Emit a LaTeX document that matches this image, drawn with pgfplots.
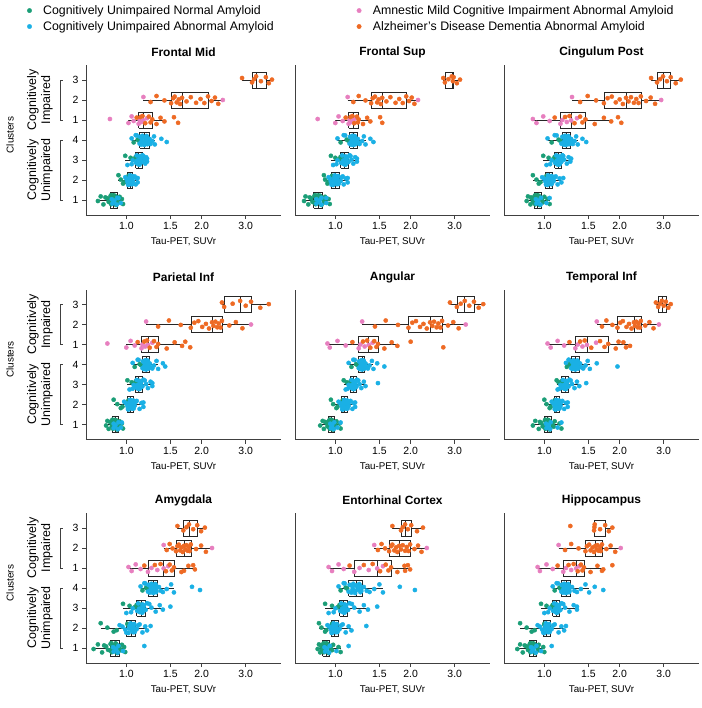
\documentclass[border=0pt]{standalone}
\usepackage{fontspec}
\setmainfont{Liberation Sans}
\usepackage{pgfplots}
\usepackage{pgfplotstable}
\pgfplotsset{compat=1.18}

\definecolor{cuN}{HTML}{1B9E77}
\definecolor{cuA}{HTML}{1AB0E5}
\definecolor{mci}{HTML}{E77FBF}
\definecolor{add}{HTML}{EE6A24}

% columns: y = cluster position + jitter; A..I = SUVr in the nine regions
\pgfplotstableread{
y A B C D E F G H I
0.95 .77 .75 .85 .83 .87 .90 .74 .85 .78
1.18 .79 .76 .86 .84 .89 .92 .77 .86 .80
0.78 .81 .78 .88 .85 .90 .95 .80 .87 .82
1.08 .84 .80 .89 .87 .92 .97 .83 .88 .85
0.88 .86 .82 .91 .88 .94 1.00 .86 .89 .87
1.24 .87 .83 .92 .88 .95 1.01 .87 .90 .88
1.02 .87 .84 .92 .89 .95 1.01 .88 .90 .88
1.14 .89 .85 .94 .90 .96 1.03 .90 .92 .90
1.21 .90 .87 .95 .91 .97 1.04 .91 .93 .91
0.75 .91 .88 .96 .92 .98 1.05 .92 .94 .92
0.98 .92 .90 .98 .93 1.00 1.08 .94 .96 .94
1.16 .94 .91 1.00 .94 1.01 1.10 .96 .98 .95
1.05 .96 .94 1.03 .96 1.04 1.15 .98 1.03 .99
0.80 .97 .95 1.05 .97 1.05 1.17 .99 1.05 1.00
1.13 .825 .79 .885 .86 .91 .96 .815 .875 .835
0.91 .85 .81 .90 .875 .93 .985 .845 .885 .86
1.20 .865 .825 .915 .88 .945 1.005 .865 .895 .875
0.79 .87 .835 .92 .885 .95 1.01 .875 .90 .88
0.86 .885 .845 .935 .895 .96 1.025 .895 .915 .895
1.23 .89 .855 .94 .90 .965 1.035 .905 .92 .90
1.16 .905 .875 .955 .915 .975 1.045 .915 .935 .915
1.07 .92 .89 .975 .93 .995 1.07 .935 .955 .935
0.89 .93 .905 .99 .935 1.005 1.09 .95 .97 .945
2.24 .93 .90 .90 .89 .96 1.00 .79 .86 .80
2.02 .95 .91 .93 .92 .98 1.02 .84 .88 .85
1.82 .97 .93 .95 .95 1.01 1.05 .89 .91 .89
2.21 1.02 .97 1.02 1.02 1.07 1.10 1.01 .97 1.00
1.98 1.04 1.00 1.04 1.04 1.09 1.12 1.05 .99 1.02
1.89 .98 .935 .965 .965 1.02 1.06 .915 .92 .915
2.16 1.02 .975 1.025 1.02 1.07 1.105 1.015 .97 1.00
3.21 .99 .96 .99 1.01 1.08 1.12 .97 .91 .97
3.11 1.04 1.00 1.04 1.05 1.11 1.14 1.03 .97 1.02
3.16 1.09 1.05 1.10 1.09 1.15 1.17 1.10 1.04 1.08
3.05 1.10 1.07 1.12 1.10 1.16 1.19 1.12 1.06 1.10
3.04 1.075 1.035 1.085 1.08 1.14 1.165 1.08 1.02 1.065
3.16 1.115 1.085 1.125 1.115 1.175 1.205 1.14 1.075 1.115
3.88 1.07 1.05 1.07 1.08 1.16 1.23 1.16 1.05 1.10
4.02 1.11 1.11 1.14 1.13 1.21 1.26 1.20 1.10 1.15
3.97 1.12 1.125 1.155 1.145 1.225 1.27 1.21 1.115 1.16
}\tG

\pgfplotstableread{
y A B C D E F G H I
0.82 .88 .84 .93 .89 .96 1.02 .89 .91 .89
0.92 .89 .86 .94 .90 .97 1.04 .91 .92 .90
1.11 .92 .88 .97 .93 .99 1.06 .93 .95 .93
0.85 .95 .92 1.02 .95 1.02 1.13 .97 1.01 .97
1.10 .93 .92 1.05 .96 1.05 1.17 1.18 1.13 1.07
1.04 .875 .84 .925 .89 .955 1.015 .885 .905 .885
0.97 .895 .865 .945 .905 .97 1.04 .91 .925 .905
0.77 .915 .88 .965 .925 .985 1.055 .925 .945 .925
2.14 .99 .94 .98 .98 1.03 1.07 .94 .93 .94
1.92 1.01 .96 1.01 1.01 1.06 1.10 .99 .96 .98
1.75 1.02 .98 1.03 1.02 1.07 1.11 1.02 .97 1.00
2.11 1.03 .99 1.03 1.03 1.08 1.11 1.03 .98 1.01
2.16 1.04 1.00 1.05 1.04 1.09 1.12 1.06 1.00 1.03
1.85 1.05 1.01 1.06 1.05 1.10 1.13 1.06 1.00 1.03
2.05 1.05 1.02 1.07 1.06 1.11 1.14 1.07 1.01 1.04
1.80 1.06 1.03 1.07 1.07 1.12 1.15 1.08 1.02 1.05
1.95 1.06 1.05 1.09 1.08 1.13 1.16 1.10 1.04 1.07
2.18 1.08 1.07 1.11 1.10 1.15 1.18 1.13 1.07 1.10
1.78 1.09 1.08 1.13 1.13 1.17 1.20 1.16 1.10 1.14
2.08 1.10 1.10 1.15 1.15 1.18 1.22 1.19 1.13 1.17
1.88 1.11 1.12 1.17 1.17 1.20 1.24 1.21 1.16 1.20
2.10 1.11 1.12 1.19 1.17 1.20 1.24 1.25 1.33 1.22
2.07 1.00 .95 .995 .995 1.045 1.085 .965 .945 .96
1.77 1.015 .965 1.015 1.015 1.065 1.10 1.00 .965 .99
1.97 1.025 .985 1.03 1.025 1.075 1.11 1.025 .975 1.005
2.23 1.035 .995 1.035 1.035 1.085 1.115 1.04 .985 1.015
1.86 1.04 1.00 1.045 1.04 1.09 1.12 1.055 .995 1.025
2.04 1.045 1.005 1.055 1.045 1.095 1.125 1.06 1.00 1.03
1.79 1.05 1.015 1.065 1.055 1.105 1.135 1.065 1.005 1.035
2.20 1.055 1.025 1.07 1.065 1.115 1.145 1.075 1.015 1.045
1.91 1.06 1.04 1.08 1.075 1.125 1.155 1.09 1.03 1.06
2.13 1.07 1.06 1.10 1.09 1.14 1.17 1.115 1.055 1.085
2.75 1.01 .98 1.02 1.03 1.10 1.13 1.00 .94 1.00
2.98 1.06 1.02 1.07 1.07 1.13 1.16 1.06 1.00 1.05
2.85 1.10 1.06 1.11 1.10 1.16 1.18 1.11 1.05 1.09
2.80 1.11 1.08 1.12 1.11 1.17 1.20 1.13 1.07 1.11
2.95 1.12 1.09 1.13 1.12 1.18 1.21 1.15 1.08 1.12
3.18 1.13 1.10 1.14 1.13 1.18 1.22 1.16 1.09 1.12
2.78 1.13 1.10 1.15 1.13 1.19 1.22 1.16 1.09 1.13
3.08 1.14 1.11 1.16 1.14 1.20 1.23 1.17 1.10 1.14
2.88 1.15 1.12 1.16 1.15 1.21 1.24 1.18 1.11 1.15
3.24 1.16 1.14 1.18 1.17 1.22 1.26 1.21 1.14 1.17
3.02 1.18 1.16 1.20 1.20 1.25 1.29 1.26 1.19 1.21
2.82 1.19 1.18 1.23 1.22 1.27 1.32 1.31 1.25 1.26
3.14 1.20 1.20 1.25 1.25 1.30 1.35 1.36 1.30 1.31
2.92 1.21 1.22 1.27 1.27 1.32 1.38 1.40 1.35 1.35
3.07 1.21 1.22 1.28 1.27 1.48 1.47 1.50 1.47 1.35
2.79 1.05 1.01 1.055 1.06 1.12 1.15 1.045 .985 1.035
2.86 1.095 1.055 1.105 1.095 1.155 1.175 1.105 1.045 1.085
3.23 1.10 1.065 1.115 1.10 1.16 1.185 1.115 1.055 1.095
2.97 1.105 1.075 1.12 1.105 1.165 1.195 1.125 1.065 1.105
2.77 1.125 1.095 1.135 1.125 1.18 1.215 1.155 1.085 1.12
3.07 1.13 1.10 1.145 1.13 1.185 1.22 1.16 1.09 1.125
2.89 1.135 1.105 1.155 1.135 1.195 1.225 1.165 1.095 1.135
3.13 1.145 1.115 1.16 1.145 1.205 1.235 1.175 1.105 1.145
2.91 1.155 1.13 1.17 1.16 1.215 1.25 1.195 1.125 1.16
3.20 1.17 1.15 1.19 1.185 1.235 1.275 1.235 1.165 1.19
4.08 1.05 1.02 1.03 1.06 1.13 1.22 1.14 1.03 1.08
4.24 1.09 1.08 1.10 1.11 1.18 1.25 1.18 1.08 1.12
3.82 1.13 1.14 1.17 1.16 1.24 1.28 1.22 1.13 1.17
4.14 1.14 1.15 1.19 1.17 1.25 1.29 1.23 1.15 1.18
3.92 1.15 1.16 1.20 1.18 1.26 1.30 1.25 1.17 1.19
4.21 1.16 1.17 1.21 1.19 1.27 1.31 1.26 1.18 1.20
3.75 1.18 1.18 1.22 1.20 1.28 1.33 1.28 1.20 1.22
4.11 1.19 1.19 1.23 1.20 1.28 1.34 1.29 1.22 1.23
3.98 1.20 1.19 1.24 1.21 1.29 1.35 1.30 1.24 1.24
4.16 1.21 1.20 1.25 1.22 1.30 1.36 1.31 1.25 1.25
3.85 1.22 1.21 1.26 1.23 1.31 1.37 1.32 1.27 1.26
4.05 1.24 1.23 1.28 1.24 1.32 1.39 1.35 1.30 1.29
3.80 1.25 1.25 1.30 1.27 1.35 1.43 1.40 1.37 1.35
3.95 1.27 1.28 1.32 1.29 1.37 1.46 1.45 1.43 1.40
4.18 1.29 1.30 1.34 1.32 1.40 1.49 1.51 1.50 1.46
3.78 1.30 1.32 1.36 1.34 1.42 1.52 1.55 1.55 1.51
4.06 1.38 1.38 1.42 1.40 1.47 1.62 1.83 1.81 1.59
3.90 1.45 1.42 1.47 1.43 1.57 1.96 1.97 2.08 1.72
4.23 1.10 1.095 1.12 1.12 1.195 1.255 1.19 1.09 1.135
4.16 1.135 1.145 1.18 1.165 1.245 1.285 1.225 1.14 1.175
3.77 1.145 1.155 1.195 1.175 1.255 1.295 1.24 1.16 1.185
4.07 1.155 1.165 1.205 1.185 1.265 1.305 1.255 1.175 1.195
3.89 1.17 1.175 1.215 1.195 1.275 1.32 1.27 1.19 1.21
4.13 1.185 1.185 1.225 1.20 1.28 1.335 1.285 1.21 1.225
3.91 1.195 1.19 1.235 1.205 1.285 1.345 1.295 1.23 1.235
4.20 1.205 1.195 1.245 1.215 1.295 1.355 1.305 1.245 1.245
3.79 1.215 1.205 1.255 1.225 1.305 1.365 1.315 1.26 1.255
4.04 1.23 1.22 1.27 1.235 1.315 1.38 1.335 1.285 1.275
3.86 1.245 1.24 1.29 1.255 1.335 1.41 1.375 1.335 1.32
}\tC

\pgfplotstableread{
y A B C D E F G H I
5.05 .86 .85 .90 .84 .93 1.03 1.02 .94 .94
4.85 1.02 1.00 .93 1.00 .95 1.06 1.05 .97 .96
5.18 1.05 1.03 .99 1.04 1.02 1.13 1.09 1.03 1.02
4.95 1.07 1.07 1.05 1.08 1.10 1.20 1.14 1.08 1.08
4.81 1.12 1.13 1.16 1.15 1.24 1.33 1.22 1.19 1.19
5.00 1.13 1.14 1.18 1.16 1.26 1.36 1.26 1.25 1.22
4.90 1.15 1.16 1.23 1.19 1.31 1.42 1.33 1.36 1.28
4.98 1.17 1.18 1.28 1.22 1.36 1.48 1.41 1.47 1.34
5.09 1.21 1.20 1.35 1.27 1.41 1.61 1.47 1.55 1.38
6.15 1.17 1.12 1.29 1.20 1.28 1.62 1.41 1.43 1.14
6.00 2.43 2.14 2.93 3.15 3.32 2.87 2.20 2.32 2.02
}\tP

\pgfplotstableread{
y A B C D E F G H I
5.12 1.10 1.10 1.10 1.11 1.17 1.26 1.18 1.14 1.13
5.15 1.14 1.15 1.21 1.18 1.29 1.39 1.30 1.30 1.25
5.20 1.16 1.17 1.26 1.21 1.34 1.45 1.37 1.41 1.31
4.84 1.19 1.19 1.32 1.24 1.38 1.54 1.44 1.51 1.36
5.17 1.23 1.22 1.39 1.29 1.43 1.67 1.49 1.59 1.40
4.88 1.25 1.23 1.42 1.32 1.46 1.74 1.52 1.63 1.42
5.03 1.27 1.24 1.46 1.34 1.48 1.80 1.55 1.67 1.44
4.80 1.32 1.29 1.59 1.45 1.57 1.93 1.66 1.77 1.53
5.11 1.37 1.34 1.73 1.56 1.68 2.07 1.77 1.89 1.63
4.93 1.42 1.38 1.85 1.67 1.77 2.20 1.88 1.99 1.72
5.14 1.55 1.51 1.97 1.72 2.00 1.98 1.85 1.95 1.87
4.86 1.61 1.54 2.03 1.80 2.70 2.12 1.70 1.90 1.70
5.90 1.25 1.18 1.39 1.34 1.44 1.70 1.45 1.48 1.21
6.20 1.32 1.24 1.49 1.48 1.59 1.77 1.49 1.53 1.28
5.98 1.42 1.32 1.61 1.65 1.78 1.87 1.53 1.58 1.37
5.84 1.51 1.39 1.73 1.81 1.96 1.96 1.58 1.64 1.46
6.09 1.54 1.41 1.79 1.87 2.03 2.01 1.60 1.67 1.48
6.17 1.56 1.44 1.86 1.94 2.10 2.06 1.62 1.69 1.51
5.88 1.59 1.47 1.93 2.01 2.18 2.13 1.64 1.72 1.53
6.03 1.62 1.49 2.00 2.08 2.25 2.18 1.66 1.75 1.56
5.80 1.64 1.52 2.06 2.14 2.32 2.23 1.68 1.77 1.58
6.11 1.67 1.54 2.12 2.20 2.39 2.28 1.70 1.80 1.60
5.93 1.74 1.60 2.17 2.23 2.44 2.30 1.72 1.83 1.62
6.14 1.81 1.66 2.22 2.27 2.48 2.33 1.74 1.86 1.63
5.86 1.90 1.74 2.28 2.31 2.54 2.36 1.76 1.90 1.65
6.05 1.98 1.80 2.33 2.34 2.58 2.38 1.78 1.93 1.67
5.85 2.05 1.86 2.38 2.38 2.63 2.41 1.79 1.96 1.68
6.18 2.12 1.92 2.43 2.41 2.67 2.43 1.81 1.99 1.70
5.95 2.19 1.97 2.55 2.58 2.82 2.53 1.90 2.07 1.77
6.12 2.26 2.02 2.66 2.74 2.96 2.63 1.99 2.14 1.84
5.81 2.33 2.07 2.77 2.91 3.11 2.73 2.08 2.21 1.92
7.10 2.90 2.70 2.67 2.41 2.87 2.79 1.60 1.69 1.27
6.88 3.18 2.74 2.82 2.46 3.06 2.85 1.69 1.83 1.58
7.04 3.24 2.83 2.90 2.66 3.17 2.90 1.74 1.86 1.585
7.18 3.30 2.92 2.98 2.85 3.29 2.95 1.78 1.90 1.59
6.94 3.45 2.95 3.09 3.00 3.43 3.00 1.85 1.95 1.67
7.14 3.61 2.97 3.20 3.15 3.58 3.06 1.92 2.01 1.75
6.84 3.71 3.06 3.35 3.43 3.74 3.13 1.99 2.12 1.81
7.02 3.82 3.15 3.51 3.71 3.90 3.20 2.06 2.24 1.87
}\tO

\pgfplotsset{
  every axis/.append style={
    scale only axis, width=195bp, height=150bp,
    xmode=log, xmin=0.69, xmax=4.15, ymin=0.25, ymax=7.75,
    axis x line*=bottom, axis y line*=left,
    xtick={1,1.5,2,3}, xticklabels={1.0,1.5,2.0,3.0},
    tick align=outside, major tick length=4bp,
    tick style={black!75, line width=0.6bp},
    axis line style={black!75, line width=0.8bp},
    tick label style={font=\fontsize{10.5}{12}\selectfont},
    xlabel={Tau-PET, SUVr},
    xlabel style={at={(axis description cs:0.5,0)}, anchor=center, yshift=-27bp, font=\fontsize{9.8}{11}\selectfont},
    title style={at={(axis description cs:0.5,1)}, anchor=center, yshift=6.5bp, font=\bfseries\fontsize{12}{14}\selectfont},
    clip=false,
  },
  myboxline/.style={black!85, line width=0.55bp, forget plot, mark=none},
  mypoint/.style={only marks, mark=*, mark size=2.1bp, forget plot},
}

% box: position, lower whisker, lower quartile, median, upper quartile, upper whisker
\newcommand{\bx}[6]{%
  \pgfmathsetmacro\yl{#1-0.4}\pgfmathsetmacro\yh{#1+0.4}%
  \addplot[myboxline] coordinates {(#3,\yl) (#5,\yl) (#5,\yh) (#3,\yh) (#3,\yl)};
  \addplot[myboxline] coordinates {(#4,\yl) (#4,\yh)};
  \addplot[myboxline] coordinates {(#2,#1) (#3,#1)};
  \addplot[myboxline] coordinates {(#5,#1) (#6,#1)};
}

\newcommand{\pts}[1]{%
  \addplot[mypoint, color=cuN] table[x=#1, y=y] {\tG};
  \addplot[mypoint, color=cuA] table[x=#1, y=y] {\tC};
  \addplot[mypoint, color=mci] table[x=#1, y=y] {\tP};
  \addplot[mypoint, color=add] table[x=#1, y=y] {\tO};
}

\newcommand{\leftdeco}{%
  \draw[black!75, line width=0.6bp] ([xshift=-23bp]axis cs:0.69,5) -- ([xshift=-26bp]axis cs:0.69,5) -- ([xshift=-26bp]axis cs:0.69,7) -- ([xshift=-23bp]axis cs:0.69,7);
  \draw[black!75, line width=0.6bp] ([xshift=-23bp]axis cs:0.69,1) -- ([xshift=-26bp]axis cs:0.69,1) -- ([xshift=-26bp]axis cs:0.69,4) -- ([xshift=-23bp]axis cs:0.69,4);
  \node[rotate=90, align=center, font=\fontsize{12.5}{14}\selectfont] at ([xshift=-46bp]axis cs:0.69,6) {Cognitively\\Impaired};
  \node[rotate=90, align=center, font=\fontsize{12.5}{14}\selectfont] at ([xshift=-46bp]axis cs:0.69,2.5) {Cognitively\\Unimpaired};
  \node[rotate=90, font=\fontsize{10}{12}\selectfont] at ([xshift=-76bp]axis cs:0.69,4.25) {Clusters};
}

\begin{document}
\begin{tikzpicture}
\useasboundingbox (0,0) rectangle (702bp,-708bp);

% ---------- Row 1 ----------
\begin{axis}[at={(86bp,-215bp)}, anchor=south west, title={Frontal Mid},
  ytick={1,2,3,4,5,6,7}, yticklabels={1,2,3,4,1,2,3},
  legend columns=2, legend cell align=left,
  legend style={at={(-0.302,1.4123)}, anchor=north west, draw=none, fill=none,
    inner sep=0pt, font=\fontsize{12.4}{14}\selectfont, row sep=1.5bp,
    /tikz/column 1/.style={column sep=9.5bp},
    /tikz/column 2/.style={column sep=81bp},
    /tikz/column 3/.style={column sep=9.5bp}}]
\addlegendimage{only marks, mark=*, mark size=2.2bp, color=cuN}
\addlegendentry{Cognitively Unimpaired Normal Amyloid}
\addlegendimage{only marks, mark=*, mark size=2.2bp, color=mci}
\addlegendentry{Amnestic Mild Cognitive Impairment Abnormal Amyloid}
\addlegendimage{only marks, mark=*, mark size=2.2bp, color=cuA}
\addlegendentry{Cognitively Unimpaired Abnormal Amyloid}
\addlegendimage{only marks, mark=*, mark size=2.2bp, color=add}
\addlegendentry{Alzheimer's Disease Dementia Abnormal Amyloid}
\bx{1}{.77}{.86}{.89}{.92}{.97}
\bx{2}{.93}{1.01}{1.04}{1.06}{1.11}
\bx{3}{.99}{1.09}{1.12}{1.16}{1.21}
\bx{4}{1.05}{1.13}{1.18}{1.23}{1.30}
\bx{5}{1.02}{1.12}{1.17}{1.27}{1.42}
\bx{6}{1.17}{1.51}{1.67}{2.12}{2.43}
\bx{7}{2.90}{3.18}{3.30}{3.61}{3.82}
\pts{A}
\leftdeco
\end{axis}

\begin{axis}[at={(295bp,-215bp)}, anchor=south west, title={Frontal Sup}, ytick=\empty]
\bx{1}{.75}{.82}{.855}{.89}{.95}
\bx{2}{.90}{.96}{1.00}{1.04}{1.12}
\bx{3}{.96}{1.05}{1.09}{1.13}{1.22}
\bx{4}{1.02}{1.14}{1.18}{1.22}{1.32}
\bx{5}{1.00}{1.13}{1.18}{1.24}{1.38}
\bx{6}{1.12}{1.39}{1.54}{1.92}{2.14}
\bx{7}{2.70}{2.74}{2.92}{2.97}{3.15}
\pts{B}
\end{axis}

\begin{axis}[at={(504bp,-215bp)}, anchor=south west, title={Cingulum Post}, ytick=\empty]
\bx{1}{.85}{.91}{.94}{.97}{1.05}
\bx{2}{.90}{1.01}{1.045}{1.08}{1.17}
\bx{3}{.99}{1.10}{1.135}{1.17}{1.27}
\bx{4}{1.03}{1.18}{1.22}{1.27}{1.36}
\bx{5}{.90}{1.16}{1.28}{1.46}{1.85}
\bx{6}{1.29}{1.73}{2.12}{2.43}{2.93}
\bx{7}{2.67}{2.82}{2.98}{3.20}{3.51}
\pts{C}
\end{axis}

% ---------- Row 2 ----------
\begin{axis}[at={(86bp,-439.5bp)}, anchor=south west, title={Parietal Inf},
  ytick={1,2,3,4,5,6,7}, yticklabels={1,2,3,4,1,2,3}]
\bx{1}{.83}{.88}{.90}{.93}{.97}
\bx{2}{.89}{1.01}{1.04}{1.07}{1.17}
\bx{3}{1.01}{1.09}{1.12}{1.16}{1.27}
\bx{4}{1.06}{1.16}{1.20}{1.23}{1.34}
\bx{5}{1.00}{1.15}{1.22}{1.34}{1.67}
\bx{6}{1.20}{1.81}{2.20}{2.41}{3.15}
\bx{7}{2.41}{2.46}{2.85}{3.15}{3.71}
\pts{D}
\leftdeco
\end{axis}

\begin{axis}[at={(295bp,-439.5bp)}, anchor=south west, title={Angular}, ytick=\empty]
\bx{1}{.87}{.94}{.965}{.99}{1.05}
\bx{2}{.96}{1.06}{1.09}{1.12}{1.20}
\bx{3}{1.08}{1.15}{1.18}{1.21}{1.32}
\bx{4}{1.13}{1.24}{1.28}{1.31}{1.42}
\bx{5}{.93}{1.24}{1.36}{1.48}{1.77}
\bx{6}{1.28}{1.96}{2.39}{2.67}{3.32}
\bx{7}{2.87}{3.06}{3.29}{3.58}{3.90}
\pts{E}
\end{axis}

\begin{axis}[at={(504bp,-439.5bp)}, anchor=south west, title={Temporal Inf}, ytick=\empty]
\bx{1}{.90}{1.00}{1.03}{1.07}{1.17}
\bx{2}{1.00}{1.10}{1.12}{1.15}{1.24}
\bx{3}{1.12}{1.17}{1.21}{1.25}{1.38}
\bx{4}{1.22}{1.28}{1.33}{1.38}{1.52}
\bx{5}{1.03}{1.33}{1.48}{1.80}{2.20}
\bx{6}{1.62}{1.96}{2.28}{2.43}{2.87}
\bx{7}{2.79}{2.85}{2.95}{3.06}{3.20}
\pts{F}
\end{axis}

% ---------- Row 3 ----------
\begin{axis}[at={(86bp,-663bp)}, anchor=south west, title={Amygdala},
  ytick={1,2,3,4,5,6,7}, yticklabels={1,2,3,4,1,2,3}]
\bx{1}{.74}{.86}{.90}{.94}{.99}
\bx{2}{.79}{1.00}{1.05}{1.09}{1.21}
\bx{3}{.97}{1.10}{1.15}{1.19}{1.40}
\bx{4}{1.14}{1.22}{1.28}{1.33}{1.55}
\bx{5}{1.02}{1.22}{1.41}{1.55}{1.88}
\bx{6}{1.41}{1.58}{1.70}{1.81}{2.20}
\bx{7}{1.60}{1.69}{1.78}{1.92}{2.06}
\pts{G}
\leftdeco
\end{axis}

\begin{axis}[at={(295bp,-663bp)}, anchor=south west, title={Entorhinal Cortex}, ytick=\empty]
\bx{1}{.85}{.89}{.92}{.95}{1.05}
\bx{2}{.86}{.96}{.99}{1.03}{1.16}
\bx{3}{.91}{1.04}{1.08}{1.12}{1.35}
\bx{4}{1.03}{1.13}{1.21}{1.28}{1.55}
\bx{5}{.94}{1.19}{1.47}{1.67}{1.99}
\bx{6}{1.43}{1.64}{1.80}{1.99}{2.32}
\bx{7}{1.69}{1.83}{1.90}{2.01}{2.24}
\pts{H}
\end{axis}

\begin{axis}[at={(504bp,-663bp)}, anchor=south west, title={Hippocampus}, ytick=\empty]
\bx{1}{.78}{.87}{.90}{.93}{1.00}
\bx{2}{.80}{.99}{1.02}{1.06}{1.20}
\bx{3}{.97}{1.08}{1.12}{1.15}{1.35}
\bx{4}{1.08}{1.17}{1.22}{1.27}{1.51}
\bx{5}{.94}{1.19}{1.34}{1.44}{1.72}
\bx{6}{1.14}{1.46}{1.60}{1.70}{2.02}
\bx{7}{1.58}{1.58}{1.59}{1.75}{1.87}
\pts{I}
\end{axis}
\end{tikzpicture}
\end{document}
